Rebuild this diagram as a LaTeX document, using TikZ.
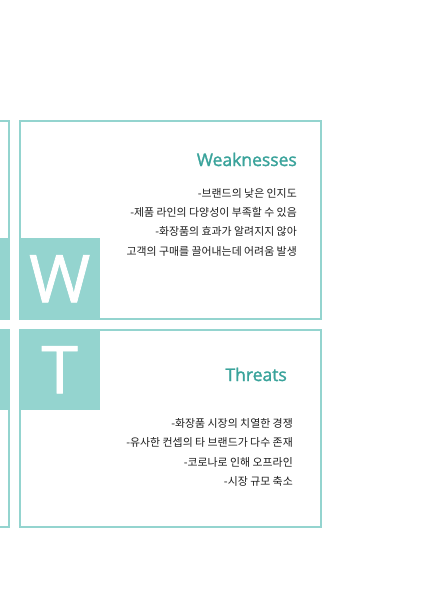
\documentclass[tikz,border=0pt]{standalone}
\usepackage{fontspec}
\setmainfont{Noto Sans CJK KR}
\newfontfamily\titlefont{Open Sans}[FakeBold=1.6]
\newfontfamily\letterfont{Open Sans}[FakeBold=1.2]
\definecolor{mint}{HTML}{94D4CF}
\definecolor{teal}{HTML}{3AA39B}
\definecolor{bodytext}{HTML}{1E1E1E}
\begin{document}
\begin{tikzpicture}[x=1pt,y=-1pt,
  panel/.style={draw=mint,line width=2pt},
  letterbox/.style={fill=mint},
  bigletter/.style={text=white,font=\letterfont\fontsize{66}{66}\selectfont,inner sep=0pt},
  heading/.style={text=teal,font=\titlefont\fontsize{17.5}{17.5}\selectfont,anchor=base east,inner sep=0pt},
  body/.style={text=bodytext,font=\fontsize{10.9}{10.9}\selectfont,anchor=base east,inner sep=0pt}]
\useasboundingbox (0,0) rectangle (421,596);
\clip (0,0) rectangle (421,596);
% left partial panels
\fill[letterbox] (-20,238) rectangle (9,319);
\fill[letterbox] (-20,329) rectangle (9,410);
\draw[panel] (-30,121) rectangle (8.5,319);
\draw[panel] (-30,329.5) rectangle (8.5,527);
% W panel
\node[letterbox,draw=none,minimum width=81pt,minimum height=81pt,anchor=north west,inner sep=0pt] (wbox) at (19,238) {};
\draw[panel] (19.5,121) rectangle (321,319);
\node[bigletter] (wl) at (wbox.center) {W};
\node[heading] (wt) at (297,166) {Weaknesses};
\node[body] (w1) at (297,197) {-브랜드의 낮은 인지도};
\node[body] (w2) at (297,216) {-제품 라인의 다양성이 부족할 수 있음};
\node[body] (w3) at (297,235) {-화장품의 효과가 알려지지 않아};
\node[body] (w4) at (297,255) {고객의 구매를 끌어내는데 어려움 발생};
% T panel
\node[letterbox,draw=none,minimum width=81pt,minimum height=81pt,anchor=north west,inner sep=0pt] (tbox) at (19,329) {};
\draw[panel] (19.5,329.5) rectangle (321,527);
\node[bigletter] (tl) at (tbox.center) {T};
\node[heading] (tt) at (287,381) {Threats};
\node[body] (t1) at (293,427) {-화장품 시장의 치열한 경쟁};
\node[body] (t2) at (293,446) {-유사한 컨셉의 타 브랜드가 다수 존재};
\node[body] (t3) at (293,466) {-코로나로 인해 오프라인};
\node[body] (t4) at (293,485) {-시장 규모 축소};
\end{tikzpicture}
\end{document}
